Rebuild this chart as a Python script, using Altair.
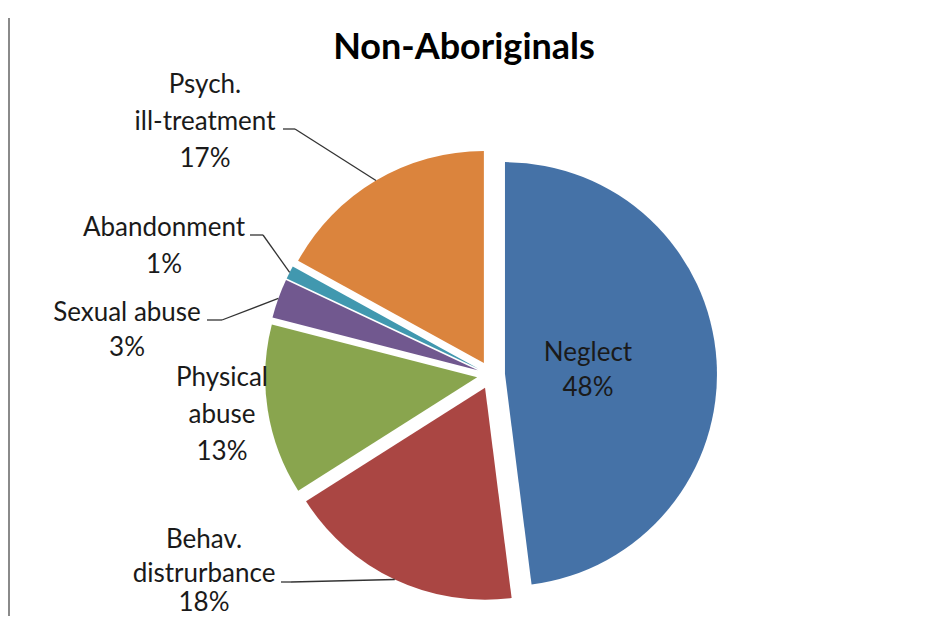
import altair as alt
import pandas as pd

# ---- data ----
categories = ["Neglect", "Behav. distrurbance", "Physical abuse", "Sexual abuse", "Abandonment", "Psych. ill-treatment"]
shares = [48, 18, 13, 3, 1, 17]
colors = ["#4572A7", "#AA4643", "#89A54E", "#71588F", "#4198AF", "#DB843D"]

# label lines (text) per category
label_lines = {
    "Neglect": ["Neglect", "48%"],
    "Behav. distrurbance": ["Behav.", "distrurbance", "18%"],
    "Physical abuse": ["Physical", "abuse", "13%"],
    "Sexual abuse": ["Sexual abuse", "3%"],
    "Abandonment": ["Abandonment", "1%"],
    "Psych. ill-treatment": ["Psych.", "ill-treatment", "17%"],
}

# ---- layout (view pixel coordinates; view origin = page (8,8)) ----
W, H = 909, 608
CX, CY = 483, 367
R = 212
EXPLODE = 14
FONT = "Lato"
LABEL_SIZE = 26

label_ys = {  # centre x, y of each line
    "Neglect": (580, [345, 380]),
    "Behav. distrurbance": (196, [532, 566, 595]),
    "Physical abuse": (214, [370, 407, 444]),
    "Sexual abuse": (119, [305, 340]),
    "Abandonment": (156, [220, 257]),
    "Psych. ill-treatment": (197, [77, 114, 151]),
}
leader_pts = {  # label end -> elbow
    "Psych. ill-treatment": (275, 121, 287, 121),
    "Abandonment": (242, 227, 255, 227),
    "Sexual abuse": (199, 312, 214, 312),
    "Behav. distrurbance": (273, 574, 283, 574),
}

pie_df = pd.DataFrame({"category": categories, "share": shares, "order": list(range(len(categories)))})

base = (
    alt.Chart(pie_df)
    .transform_joinaggregate(total="sum(share)")
    .transform_window(cum="sum(share)", sort=[alt.SortField("order")], frame=[None, 0])
    .transform_calculate(
        t1="datum.cum / datum.total * 2 * PI",
        t0="(datum.cum - datum.share) / datum.total * 2 * PI",
    )
    .transform_calculate(mid="(datum.t0 + datum.t1) / 2")
    .transform_calculate(
        cx=f"{CX} + {EXPLODE} * sin(datum.mid)",
        cy=f"{CY} - {EXPLODE} * cos(datum.mid)",
    )
    .transform_calculate(
        ox=f"datum.cx + {R} * sin(datum.mid)",
        oy=f"datum.cy - {R} * cos(datum.mid)",
    )
)

pie = base.mark_arc(radius=R).encode(
    theta=alt.Theta("t0:Q", scale=None),
    theta2="t1:Q",
    x=alt.X("cx:Q", scale=None),
    y=alt.Y("cy:Q", scale=None),
    color=alt.Color("category:N", scale=alt.Scale(domain=categories, range=colors), legend=None),
)

lead_df = pd.DataFrame(
    [{"category": k, "x0": v[0], "y0": v[1], "x1": v[2], "y1": v[3]} for k, v in leader_pts.items()]
)

leaders = base.transform_lookup(
    lookup="category", from_=alt.LookupData(lead_df, "category", ["x0", "y0", "x1", "y1"])
).transform_filter("isValid(datum.x0)")

lead1 = leaders.mark_rule(color="#333333", strokeWidth=1.3).encode(
    x=alt.X("x0:Q", scale=None), y=alt.Y("y0:Q", scale=None), x2="x1:Q", y2="y1:Q"
)
lead2 = leaders.mark_rule(color="#333333", strokeWidth=1.3).encode(
    x=alt.X("x1:Q", scale=None), y=alt.Y("y1:Q", scale=None), x2="ox:Q", y2="oy:Q"
)

rows = []
for cat in categories:
    x, ys = label_ys[cat]
    for line, y in zip(label_lines[cat], ys):
        rows.append({"text": line, "x": x, "y": y})
text_df = pd.DataFrame(rows)

labels = alt.Chart(text_df).mark_text(
    font=FONT, fontSize=LABEL_SIZE, color="#1a1a1a", align="center", baseline="middle"
).encode(x=alt.X("x:Q", scale=None), y=alt.Y("y:Q", scale=None), text="text:N")

title = alt.Chart(pd.DataFrame({"t": ["Non-Aboriginals"]})).mark_text(
    font=FONT, fontSize=36, fontWeight="bold", color="#000000", align="center", baseline="alphabetic"
).encode(x=alt.value(456), y=alt.value(51), text="t:N")

edge = alt.Chart(pd.DataFrame({"a": [0]})).mark_rule(color="#8a8a8a", strokeWidth=2).encode(
    x=alt.value(1), y=alt.value(10), y2=alt.value(608)
)

chart = (
    alt.layer(edge, pie, lead1, lead2, labels, title)
    .properties(width=W, height=H, padding=0, autosize=alt.AutoSizeParams(type="fit", contains="padding"))
    .configure_view(strokeWidth=0)
)

chart.save("out.html", embed_options={"renderer": "svg", "actions": False})
